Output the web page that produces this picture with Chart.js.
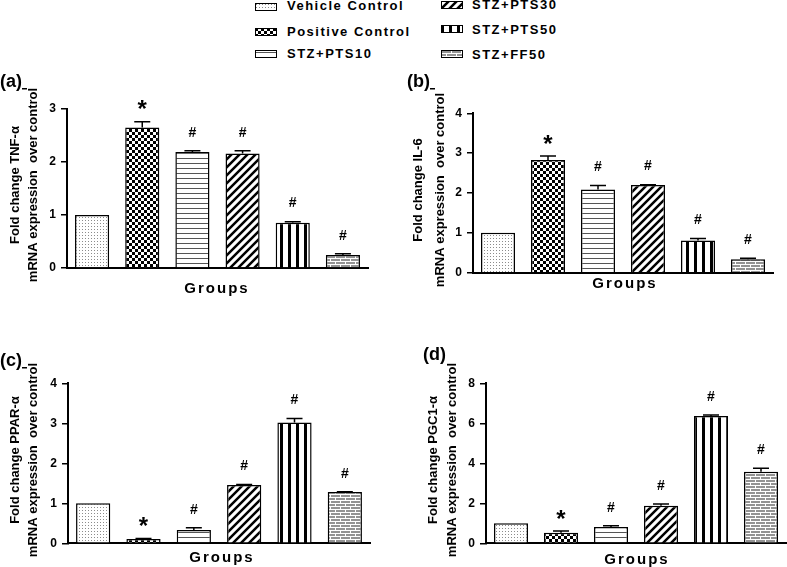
<!DOCTYPE html>
<html>
<head>
<meta charset="utf-8">
<script src="https://cdn.jsdelivr.net/npm/chart.js@4.4.1/dist/chart.umd.min.js"></script>
<style>
    body { margin: 0; width: 787px; height: 567px; background: #fff; position: relative; overflow: hidden;
           font-family: "Liberation Sans", Arial, sans-serif; }
    canvas.panel { position: absolute; }
    .swatch { position: absolute; }
    .legText { position: absolute; font-weight: bold; font-size: 13px; letter-spacing: 1.5px; line-height: 16px; white-space: nowrap; color: #000; }
</style>
</head>
<body>
<div id="legend"></div>
<canvas id="chartA" class="panel"></canvas>
<canvas id="chartB" class="panel"></canvas>
<canvas id="chartC" class="panel"></canvas>
<canvas id="chartD" class="panel"></canvas>
<script>
const groups = ['Vehicle Control', 'Positive Control', 'STZ+PTS10', 'STZ+PTS30', 'STZ+PTS50', 'STZ+FF50'];
const marks = ['', '*', '#', '#', '#', '#'];

const tnfMean = [1.0, 2.65, 2.19, 2.16, 0.855, 0.245];
const tnfErr = [0, 0.11, 0.02, 0.05, 0.02, 0.025];
const tnfTicks = [0, 1, 2, 3];

const il6Mean = [1.0, 2.83, 2.09, 2.2, 0.81, 0.34];
const il6Err = [0, 0.1, 0.1, 0.01, 0.05, 0.02];
const il6Ticks = [0, 1, 2, 3, 4];

const pparMean = [1.0, 0.11, 0.33, 1.46, 3.02, 1.28];
const pparErr = [0, 0.01, 0.06, 0.01, 0.1, 0.01];
const pparTicks = [0, 1, 2, 3, 4];

const pgcMean = [1.0, 0.53, 0.81, 1.88, 6.37, 3.58];
const pgcErr = [0, 0.08, 0.07, 0.08, 0.05, 0.17];
const pgcTicks = [0, 2, 4, 6, 8];

const FONT = '"Liberation Sans", Arial, sans-serif';

function makePattern(kind) {
    const c = document.createElement('canvas');
    const g = c.getContext('2d');
    const size = { dots: [3, 3], check: [6, 6], hlines: [5, 5], diag: [8, 8], vlines: [8, 1], brick: [10, 6] }[kind];
    c.width = size[0];
    c.height = size[1];
    g.fillStyle = '#fff';
    g.fillRect(0, 0, c.width, c.height);
    if (kind === 'dots') {
        g.fillStyle = '#8c8c8c';
        g.fillRect(1, 1, 1, 1);
    } else if (kind === 'check') {
        g.fillStyle = '#000';
        g.fillRect(0, 0, 3, 3);
        g.fillRect(3, 3, 3, 3);
    } else if (kind === 'hlines') {
        g.fillStyle = '#555';
        g.fillRect(0, 2, 5, 1);
    } else if (kind === 'diag') {
        g.strokeStyle = '#000';
        g.lineWidth = 2.5;
        g.beginPath();
        g.moveTo(-1, 9); g.lineTo(9, -1);
        g.moveTo(-5, 5); g.lineTo(5, -5);
        g.moveTo(3, 13); g.lineTo(13, 3);
        g.stroke();
    } else if (kind === 'vlines') {
        g.fillStyle = '#000';
        g.fillRect(0, 0, 3, 1);
    } else if (kind === 'brick') {
        g.fillStyle = '#939393';
        g.fillRect(0, 0, 10, 6);
        g.fillStyle = '#fff';
        g.fillRect(0, 0, 10, 1);
        g.fillRect(0, 3, 10, 1);
        g.fillRect(0, 0, 1, 3);
        g.fillRect(5, 3, 1, 3);
    }
    return g.createPattern(c, 'repeat');
}

const patterns = ['dots', 'check', 'hlines', 'diag', 'vlines', 'brick'].map(makePattern);

// legend
const legendPos = [
    { sx: 255, sy: 3, tx: 287, ty: 6 },
    { sx: 255, sy: 28, tx: 287, ty: 31.5 },
    { sx: 255, sy: 50, tx: 287, ty: 53.5 },
    { sx: 441, sy: 1, tx: 472, ty: 5 },
    { sx: 441, sy: 25, tx: 472, ty: 30 },
    { sx: 441, sy: 50, tx: 472, ty: 54.5 },
];
const legend = document.getElementById('legend');
groups.forEach((name, gi) => {
    const p = legendPos[gi];
    const sw = document.createElement('canvas');
    sw.className = 'swatch';
    sw.width = 22;
    sw.height = 8;
    sw.style.left = p.sx + 'px';
    sw.style.top = p.sy + 'px';
    const g = sw.getContext('2d');
    g.fillStyle = patterns[gi];
    g.fillRect(0, 0, 22, 8);
    g.strokeStyle = '#000';
    g.lineWidth = 1;
    g.strokeRect(0.5, 0.5, 21, 7);
    legend.appendChild(sw);
    const t = document.createElement('div');
    t.className = 'legText';
    t.textContent = name;
    t.style.left = p.tx + 'px';
    t.style.top = (p.ty - 8) + 'px';
    legend.appendChild(t);
});

const extras = {
    id: 'extras',
    afterDatasetsDraw(chart, args, opts) {
        const ctx = chart.ctx;
        const y = chart.scales.y;
        const values = chart.data.datasets[0].data;
        ctx.save();
        chart.getDatasetMeta(0).data.forEach((bar, i) => {
            const base = y.getPixelForValue(values[i]);
            const top = y.getPixelForValue(values[i] + opts.errors[i]);
            if (opts.errors[i] > 0) {
                ctx.strokeStyle = '#000';
                ctx.lineWidth = 1.5;
                ctx.beginPath();
                ctx.moveTo(bar.x, base);
                ctx.lineTo(bar.x, top);
                ctx.moveTo(bar.x - 8, top);
                ctx.lineTo(bar.x + 8, top);
                ctx.stroke();
            }
            const m = marks[i];
            if (m) {
                ctx.fillStyle = '#000';
                ctx.textAlign = 'center';
                ctx.textBaseline = 'middle';
                if (m === '*') {
                    ctx.font = 'bold 24px ' + FONT;
                    ctx.fillText(m, bar.x, top - 11);
                } else {
                    ctx.font = 'bold 14px ' + FONT;
                    ctx.fillText(m, bar.x, top - 18);
                }
            }
        });
        ctx.restore();
    },
    afterDraw(chart, args, opts) {
        const ctx = chart.ctx;
        ctx.save();
        ctx.fillStyle = '#000';
        // panel label
        ctx.font = 'bold 18px ' + FONT;
        ctx.textAlign = 'left';
        ctx.textBaseline = 'middle';
        ctx.fillText(opts.label, opts.labelAt[0], opts.labelAt[1]);
        if (opts.dash) {
            const w = ctx.measureText(opts.label).width;
            ctx.fillRect(opts.labelAt[0] + w, opts.labelAt[1] + 6, 5, 1.5);
        }
        // y title, two centred lines
        ctx.font = 'bold 13px ' + FONT;
        opts.title.forEach((line, k) => {
            ctx.save();
            ctx.translate(opts.titleX[k], opts.titleMid);
            ctx.rotate(-Math.PI / 2);
            ctx.textAlign = 'center';
            ctx.textBaseline = 'middle';
            ctx.fillText(line, 0, 0);
            ctx.restore();
        });
        // x title
        ctx.font = 'bold 15px ' + FONT;
        ctx.letterSpacing = '2px';
        ctx.textAlign = 'center';
        ctx.fillText('Groups', opts.groupsAt[0], opts.groupsAt[1]);
        ctx.restore();
    }
};

const panels = [
    { canvas: 'chartA', label: '(a)', dash: true, title: ['Fold change TNF-\u03b1', 'mRNA expression  over control'],
      mean: tnfMean, err: tnfErr, ticks: tnfTicks,
      box: [0, 66, 388, 236], yWidth: 67, pad: { top: 43, right: 20, bottom: 34 },
      labelAt: [0, 16], titleX: [15, 33], titleMid: 119, groupsAt: [217, 223] },
    { canvas: 'chartB', label: '(b)', dash: true, title: ['Fold change IL-6', 'mRNA expression  over control'],
      mean: il6Mean, err: il6Err, ticks: il6Ticks,
      box: [390, 66, 397, 236], yWidth: 83, pad: { top: 47.3, right: 14, bottom: 29.3 },
      labelAt: [17, 16], titleX: [28, 50], titleMid: 124, groupsAt: [235, 218] },
    { canvas: 'chartC', label: '(c)', dash: true, title: ['Fold change PPAR-\u03b1', 'mRNA expression  over control'],
      mean: pparMean, err: pparErr, ticks: pparTicks,
      box: [0, 320, 388, 247], yWidth: 68, pad: { top: 63.3, right: 18, bottom: 23.7 },
      labelAt: [0, 41], titleX: [15, 33], titleMid: 140, groupsAt: [222, 237.7] },
    { canvas: 'chartD', label: '(d)', dash: false, title: ['Fold change PGC1-\u03b1', 'mRNA expression  over control'],
      mean: pgcMean, err: pgcErr, ticks: pgcTicks,
      box: [390, 320, 397, 247], yWidth: 96, pad: { top: 63.3, right: 1, bottom: 23.7 },
      labelAt: [33, 35.5], titleX: [43, 62], titleMid: 140, groupsAt: [247, 240] },
];

panels.forEach(p => {
    const el = document.getElementById(p.canvas);
    el.width = p.box[2];
    el.height = p.box[3];
    el.style.left = p.box[0] + 'px';
    el.style.top = p.box[1] + 'px';
    new Chart(el, {
        type: 'bar',
        data: {
            labels: groups,
            datasets: [{
                data: p.mean,
                backgroundColor: patterns,
                borderColor: '#000',
                borderWidth: 1.5,
                barPercentage: 0.68,
                categoryPercentage: 1.0
            }]
        },
        options: {
            responsive: false,
            animation: false,
            devicePixelRatio: 1,
            layout: { padding: { left: 0, top: p.pad.top, right: p.pad.right, bottom: p.pad.bottom } },
            plugins: {
                legend: { display: false },
                tooltip: { enabled: false },
                extras: {
                    errors: p.err, label: p.label, dash: p.dash, title: p.title,
                    labelAt: p.labelAt, titleX: p.titleX, titleMid: p.titleMid, groupsAt: p.groupsAt
                }
            },
            scales: {
                x: {
                    grid: { display: false },
                    ticks: { display: false },
                    border: { display: true, color: '#000', width: 2 },
                    afterFit: s => { s.height = 0; }
                },
                y: {
                    min: p.ticks[0],
                    max: p.ticks[p.ticks.length - 1],
                    grid: { display: true, drawOnChartArea: false, drawTicks: true, tickLength: 6, color: '#000', lineWidth: 1.5 },
                    border: { display: true, color: '#000', width: 2 },
                    ticks: {
                        stepSize: p.ticks[1] - p.ticks[0],
                        color: '#000',
                        padding: 5,
                        font: { family: FONT, size: 12, weight: 'bold' }
                    },
                    afterFit: s => { s.width = p.yWidth; }
                }
            }
        },
        plugins: [extras]
    });
});
</script>
</body>
</html>
